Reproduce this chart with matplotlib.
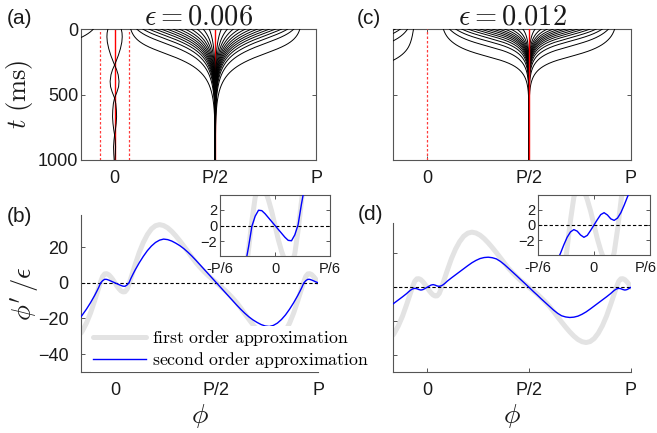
import numpy as np
import matplotlib
matplotlib.use('Agg')
import matplotlib.pyplot as plt
import matplotlib.transforms as mtrans

plt.rcParams['mathtext.fontset'] = 'cm'
plt.rcParams['font.family'] = ['Liberation Sans', 'DejaVu Sans']

# ---------------- data (phase in units of the period P) ----------------
phase = [-0.1667, -0.16, -0.14, -0.12, -0.10, -0.09, -0.08, -0.07, -0.06, -0.05, -0.04, -0.03, -0.02, -0.01,
         0.00, 0.01, 0.02, 0.03, 0.04, 0.05, 0.06, 0.07, 0.08, 0.09, 0.10,
         0.12, 0.14, 0.16, 0.18, 0.20, 0.22, 0.24, 0.26, 0.28, 0.30, 0.32, 0.34, 0.36, 0.38, 0.40, 0.42, 0.44, 0.46, 0.48,
         0.50,
         0.52, 0.54, 0.56, 0.58, 0.60, 0.62, 0.64, 0.66, 0.68, 0.70, 0.72, 0.74, 0.76, 0.78, 0.80, 0.82, 0.84, 0.86, 0.88,
         0.90, 0.91, 0.92, 0.93, 0.94, 0.95, 0.96, 0.97, 0.98, 0.99, 1.00]

first_order = [-28.2, -27.0, -22.6, -17.0, -10.2, -6.6, -3.0, 0.6, 3.6, 5.0, 5.1, 4.5, 3.3, 1.8,
               0.0, -1.8, -3.3, -4.5, -5.1, -5.0, -3.6, -0.6, 3.0, 6.6, 10.2,
               17.0, 22.6, 27.0, 30.2, 32.0, 32.6, 32.1, 30.8, 28.8, 26.3, 23.5, 20.5, 17.4, 14.2, 11.2, 8.6, 6.2, 4.0, 2.0,
               0.0,
               -2.0, -4.0, -6.2, -8.6, -11.2, -14.2, -17.4, -20.5, -23.5, -26.3, -28.8, -30.8, -32.1, -32.6, -32.0, -30.2, -27.0, -22.6, -17.0,
               -10.2, -6.6, -3.0, 0.6, 3.6, 5.0, 5.1, 4.5, 3.3, 1.8, 0.0]

second_order_006 = [-19.0, -18.0, -14.8, -11.2, -7.2, -5.0, -2.7, -0.1, 1.2, 1.95, 1.9, 1.5, 1.0, 0.5,
                    0.0, -0.5, -1.0, -1.5, -1.9, -1.95, -1.2, 0.1, 2.7, 5.0, 7.2,
                    11.2, 14.8, 18.0, 20.6, 22.6, 23.9, 24.5, 24.2, 23.4, 22.2, 20.8, 19.1, 17.1, 14.9, 12.5, 10.0, 7.5, 5.0, 2.5,
                    0.0,
                    -2.5, -5.0, -7.5, -10.0, -12.5, -14.9, -17.1, -19.1, -20.8, -22.2, -23.4, -24.2, -24.5, -23.9, -22.6, -20.6, -18.0, -14.8, -11.2,
                    -7.2, -5.0, -2.7, -0.1, 1.2, 1.95, 1.9, 1.5, 1.0, 0.5, 0.0]

second_order_012 = [-9.8, -9.2, -7.4, -5.6, -3.7, -2.6, -1.6, -0.9, -0.6, -0.8, -1.3, -1.6, -1.35, -0.7,
                    0.0, 0.7, 1.35, 1.6, 1.3, 0.8, 0.6, 0.9, 1.6, 2.6, 3.7,
                    5.6, 7.4, 9.2, 11.0, 12.8, 14.5, 15.9, 17.0, 17.6, 17.8, 17.5, 16.8, 15.3, 13.4, 11.2, 9.0, 6.8, 4.5, 2.3,
                    0.0,
                    -2.3, -4.5, -6.8, -9.0, -11.2, -13.4, -15.3, -16.8, -17.5, -17.8, -17.6, -17.0, -15.9, -14.5, -12.8, -11.0, -9.2, -7.4, -5.6,
                    -3.7, -2.6, -1.6, -0.9, -0.6, -0.8, -1.3, -1.6, -1.35, -0.7, 0.0]

eps_a = 0.006
eps_c = 0.012
speed_a = 0.012     # P per ms per unit of phi'/eps
speed_c = 0.011

fan_starts = [0.08, 0.11, 0.14, 0.17, 0.20, 0.23, 0.26, 0.29, 0.32, 0.35, 0.38, 0.41, 0.44, 0.47,
              0.53, 0.56, 0.59, 0.62, 0.65, 0.68, 0.71, 0.74, 0.77, 0.80, 0.83, 0.86, 0.89, 0.92]
corner_a = [-0.105]
corner_c = [-0.155, -0.13, -0.095, -0.066]

braid_t = [0, 30, 60, 100, 150, 200, 240, 275, 310, 350, 400, 440, 480, 527, 570, 620, 670, 720, 770, 809,
           850, 900, 950, 1000]
braid_1 = [-0.033, -0.037, -0.038, -0.036, -0.029, -0.019, -0.009, 0.0, 0.010, 0.018, 0.022, 0.020, 0.012, 0.0,
           -0.006, -0.009, -0.010, -0.008, -0.004, 0.0, 0.003, 0.005, 0.004, 0.002]
braid_2 = [0.033, 0.037, 0.038, 0.036, 0.029, 0.019, 0.009, 0.0, -0.010, -0.018, -0.022, -0.020, -0.012, 0.0,
           0.006, 0.009, 0.010, 0.008, 0.004, 0.0, -0.003, -0.005, -0.004, -0.002]

stable_a = [0.0, 0.5]
unstable_a = [-0.072, 0.070]
stable_c = [0.5]
unstable_c = [0.0]

xtick_pos = [0, 0.5, 1]
xtick_lab = ['0', 'P/2', 'P']
inset_xtick_pos = [-1/6, 0, 1/6]
inset_xtick_lab = ['-P/6', '0', 'P/6']

# ---------------- helpers ----------------
W, H = 657, 433
SPINE = '#555555'
TXT = '#1a1a1a'


def box(l, t, r, b):
    return [l / W, 1 - b / H, (r - l) / W, (b - t) / H]


def integrate(starts, vals, eps, speed):
    xp = np.array(phase[14:])
    fp = np.array(vals[14:])
    f = lambda q: speed * eps * np.interp(np.mod(q, 1.0), xp, fp)
    t = np.arange(0, 1001, 2.0)
    res = []
    for s in starts:
        p = np.empty_like(t)
        p[0] = s
        for i in range(1, len(t)):
            dt = t[i] - t[i - 1]
            q = p[i - 1]
            k1 = f(q); k2 = f(q + dt / 2 * k1); k3 = f(q + dt / 2 * k2); k4 = f(q + dt * k3)
            p[i] = q + dt / 6 * (k1 + 2 * k2 + 2 * k3 + k4)
        res.append((t, p))
    return res


def style_axes(ax, boxed=True, size=13):
    for s in ax.spines.values():
        s.set_color(SPINE)
        s.set_linewidth(0.8)
    if not boxed:
        ax.spines['top'].set_visible(False)
        ax.spines['right'].set_visible(False)
    ax.tick_params(direction='in', length=3, width=0.7, color=SPINE, labelcolor=TXT,
                   top=boxed, right=boxed, labelsize=size)


fig = plt.figure(figsize=(W / 100, H / 100), dpi=100)

# ---------------- (a) and (c) ----------------
for key, bx, eps, speed, corner, stab, unst, title in [
        ('a', box(81, 29, 316, 160), eps_a, speed_a, corner_a, stable_a, unstable_a, r'$\epsilon = 0.006$'),
        ('c', box(393, 29, 631, 160), eps_c, speed_c, corner_c, stable_c, unstable_c, r'$\epsilon = 0.012$')]:
    ax = fig.add_axes(bx)
    style_axes(ax, True)
    vals = second_order_006 if key == 'a' else second_order_012
    zr = 2 if key == 'a' else 4
    for x0 in stab:
        ax.axvline(x0, color='#ff0000', lw=1.0, zorder=zr)
    for x0 in unst:
        ax.axvline(x0, color='#ff3b3b', lw=0.9, ls=(0, (2, 1.6)), zorder=zr)
    for t, p in integrate(corner + fan_starts, vals, eps, speed):
        ax.plot(p, t, color='k', lw=0.7, zorder=3)
    ax.set_yticks([0, 500, 1000])
    if key == 'a':
        ax.plot(braid_1, braid_t, color='k', lw=0.7, zorder=3)
        ax.plot(braid_2, braid_t, color='k', lw=0.7, zorder=3)
        ax.set_ylabel(r'$t\ \mathrm{(ms)}$', fontsize=19, color=TXT)
        ax.yaxis.set_label_coords(-0.195, 0.5)
    else:
        ax.set_yticklabels([])
    ax.tick_params(axis='y', pad=2)
    ax.set_xlim(-1 / 6, 1)
    ax.set_ylim(1000, 0)
    ax.set_xticks(xtick_pos)
    ax.set_xticklabels(xtick_lab)
    ax.tick_params(axis='x', pad=7)
    ax.set_title(title, fontsize=20.5, pad=3, color=TXT)

# ---------------- (b) and (d) ----------------
for key, bx, vals, ibx in [('b', box(81, 215, 318, 372), second_order_006, box(220, 195, 330, 256)),
                           ('d', box(393, 223, 631, 372), second_order_012, box(538, 195, 650, 255))]:
    ax = fig.add_axes(bx)
    style_axes(ax, False)
    ax.axhline(0, color='k', lw=0.8, ls=(0, (3, 2)), zorder=2)
    lg, = ax.plot(phase, first_order, color='#e3e3e3', lw=3.6, solid_capstyle='round', zorder=1)
    lb, = ax.plot(phase, vals, color='#0000ff', lw=1.0, zorder=3)
    ax.set_xlim(-1 / 6, 1)
    ax.set_ylim(-50, 38)
    ax.set_yticks([-40, -20, 0, 20])
    ax.set_xticks(xtick_pos)
    ax.set_xticklabels(xtick_lab)
    ax.tick_params(axis='x', pad=7)
    ax.tick_params(axis='y', pad=9)
    ax.set_xlabel(r'$\phi$', fontsize=20, color=TXT)
    ax.xaxis.set_label_coords(0.5, -0.19 if key == 'b' else -0.20)
    if key == 'b':
        ax.set_ylabel(r"$\phi'\,/\epsilon$", fontsize=19, color=TXT)
        ax.yaxis.set_label_coords(-0.17, 0.5)
        leg = fig.legend([lg, lb], [r'$\mathrm{first\ order\ approximation}$',
                                    r'$\mathrm{second\ order\ approximation}$'],
                         loc='upper left', bbox_to_anchor=(91 / W, 1 - 326 / H),
                         fontsize=12.8, frameon=True, framealpha=1, facecolor='white', edgecolor='none',
                         fancybox=False, borderpad=0.1, handlelength=3.0, handletextpad=0.35,
                         labelspacing=0.12, borderaxespad=0)
        leg.set_zorder(5)
    else:
        ax.set_yticklabels([])
    # inset
    ia = fig.add_axes(ibx)
    style_axes(ia, True, size=10.5)
    ia.axhline(0, color='k', lw=0.8, ls=(0, (3, 2)), zorder=2)
    ia.plot(phase, first_order, color='#e3e3e3', lw=3.6, zorder=1)
    ia.plot(phase, vals, color='#0000ff', lw=1.0, zorder=3)
    ia.set_xlim(-1 / 6, 1 / 6)
    ia.set_ylim(-3.9, 3.9)
    ia.set_yticks([-2, 0, 2])
    ia.set_xticks(inset_xtick_pos)
    ia.set_xticklabels(inset_xtick_lab)
    ia.tick_params(axis='y', pad=2)
    ia.tick_params(axis='x', pad=4)
    if key == 'd':
        lab = ia.get_xticklabels()[-1]
        lab.set_transform(lab.get_transform() + mtrans.ScaledTranslation(-4 / 100, 0, fig.dpi_scale_trans))

# panel letters
for lab, x, y in [('(a)', 7, 19), ('(c)', 357, 19), ('(b)', 7, 216), ('(d)', 358, 215)]:
    fig.text(x / W, 1 - y / H, lab, fontsize=15, ha='left', va='center', color=TXT)

fig.savefig('out.png', dpi=100)
